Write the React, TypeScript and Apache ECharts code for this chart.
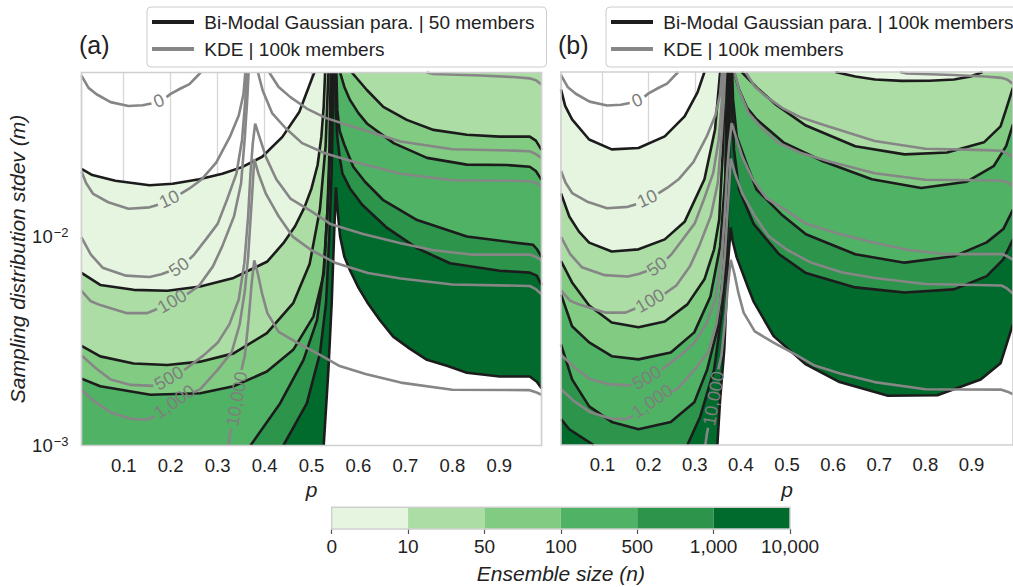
import React, { useEffect, useRef } from 'react';
import * as echarts from 'echarts';

const FONT = '"Liberation Sans", Arial, Helvetica, sans-serif';
const TEXT = '#222222';
const BLACK = '#1c1c1c';
const GRAY = '#868686';
const LEVEL_COLORS = ['#e5f5e0', '#abdda5', '#82cb82', '#4fb264', '#2c944b', '#006b2c'];
const CB_LABELS = ['0', '10', '50', '100', '500', '1,000', '10,000'];
const NAME_A = 'Bi-Modal Gaussian para. | 50 members';
const NAME_B = 'Bi-Modal Gaussian para. | 100k members';
const NAME_K = 'KDE | 100k members';
const X_MIN = 0.01, X_MAX = 0.99, Y_MIN = 0.001, Y_MAX = 0.061;

// ---------- panel (a): bi-modal Gaussian, 50 members (p, sigma) ----------
const A_L0 = [[0.01,0.0211],[0.033,0.0197],[0.082,0.0185],[0.155,0.0176],[0.204,0.0179],[0.261,0.0188],[0.310,0.0200],[0.352,0.0215],[0.395,0.0241],[0.438,0.0300],[0.474,0.0395],[0.501,0.0571],[0.506,0.061]];
const A_L10 = [[0.01,0.0067],[0.05,0.00587],[0.121,0.00556],[0.193,0.0055],[0.263,0.00577],[0.334,0.00634],[0.406,0.0076],[0.44,0.0093],[0.465,0.0112],[0.485,0.0138],[0.50,0.0170],[0.513,0.022],[0.521,0.030],[0.526,0.042],[0.529,0.061]];
const A_L50 = [[0.01,0.0030],[0.05,0.00267],[0.121,0.00247],[0.193,0.00243],[0.263,0.00252],[0.334,0.00276],[0.405,0.00345],[0.461,0.0048],[0.496,0.0074],[0.518,0.0135],[0.530,0.027],[0.536,0.061]];
const A_L100 = [[0.01,0.00209],[0.05,0.00192],[0.157,0.00175],[0.263,0.00178],[0.334,0.00192],[0.405,0.00226],[0.461,0.00287],[0.504,0.00414],[0.526,0.0066],[0.534,0.0134],[0.538,0.025],[0.541,0.061]];
const A_L500 = [[0.370,0.001],[0.433,0.00159],[0.483,0.00257],[0.512,0.00399],[0.526,0.00693],[0.535,0.0145],[0.541,0.030],[0.544,0.061]];
const A_L1000 = [[0.440,0.001],[0.490,0.00159],[0.518,0.00276],[0.531,0.00481],[0.538,0.01],[0.543,0.0209],[0.547,0.061]];
const A_SP = [[0.526,0.001],[0.536,0.0023],[0.543,0.00481],[0.548,0.01],[0.552,0.0172]];
const A_R10000 = [[0.552,0.0172],[0.556,0.013],[0.561,0.0100],[0.570,0.0080],[0.582,0.0069],[0.600,0.0057],[0.619,0.00484],[0.645,0.0040],[0.674,0.00332],[0.71,0.0029],[0.746,0.00257],[0.79,0.0024],[0.831,0.00223],[0.901,0.00214],[0.965,0.00214],[0.98,0.00202],[0.99,0.00188]];
const A_R50 = [[0.586,0.061],[0.618,0.0503],[0.653,0.0418],[0.703,0.0362],[0.760,0.0324],[0.831,0.0307],[0.901,0.0301],[0.965,0.0301],[0.978,0.0288],[0.99,0.0260]];
const A_R100 = [[0.561,0.061],[0.570,0.052],[0.582,0.0451],[0.600,0.039],[0.618,0.0348],[0.675,0.0280],[0.746,0.0238],[0.831,0.0221],[0.916,0.0220],[0.965,0.0216],[0.978,0.0206],[0.99,0.0187]];
const A_R500 = [[0.553,0.061],[0.555,0.0404],[0.560,0.032],[0.570,0.0275],[0.589,0.0216],[0.614,0.0183],[0.652,0.0150],[0.725,0.0120],[0.831,0.0100],[0.937,0.00933],[0.972,0.00913],[0.980,0.00872],[0.99,0.0080]];
const A_R1000 = [[0.550,0.061],[0.552,0.040],[0.555,0.0300],[0.560,0.0240],[0.566,0.0200],[0.582,0.0170],[0.608,0.0142],[0.661,0.0110],[0.725,0.0088],[0.795,0.00745],[0.901,0.00686],[0.965,0.00672],[0.980,0.00650],[0.99,0.00587]];

// ---------- panel (b): bi-modal Gaussian, 100k members ----------
const B_L0 = [[0.01,0.0503],[0.019,0.042],[0.034,0.0362],[0.071,0.0290],[0.120,0.0260],[0.178,0.0264],[0.235,0.0300],[0.278,0.0374],[0.306,0.0487],[0.321,0.061]];
const B_L10 = [[0.01,0.0160],[0.028,0.0124],[0.049,0.0105],[0.071,0.0093],[0.120,0.00843],[0.178,0.00864],[0.235,0.00964],[0.278,0.0117],[0.321,0.0187],[0.344,0.0324],[0.355,0.061]];
const B_L50 = [[0.01,0.0076],[0.034,0.0060],[0.071,0.00465],[0.12,0.00386],[0.178,0.00366],[0.235,0.0039],[0.284,0.00471],[0.321,0.00621],[0.342,0.00864],[0.353,0.0120],[0.361,0.0260],[0.366,0.061]];
const B_L100 = [[0.01,0.00526],[0.034,0.0037],[0.071,0.0031],[0.12,0.00266],[0.178,0.00257],[0.248,0.00277],[0.299,0.00346],[0.334,0.00514],[0.355,0.00892],[0.366,0.0187],[0.370,0.061]];
const B_L500 = [[0.01,0.00303],[0.034,0.00206],[0.071,0.00153],[0.12,0.00129],[0.178,0.00119],[0.248,0.00129],[0.299,0.0016],[0.327,0.0023],[0.349,0.00358],[0.364,0.00737],[0.371,0.0187],[0.373,0.061]];
const B_L1000_LEFT = [[0.01,0.00133],[0.028,0.00119],[0.049,0.00111],[0.081,0.001]];
const B_L1000 = [[0.284,0.001],[0.312,0.00137],[0.342,0.0023],[0.359,0.00431],[0.370,0.00864],[0.375,0.026],[0.376,0.061]];
const B_SP = [[0.349,0.001],[0.355,0.00165],[0.364,0.00287],[0.372,0.0074],[0.378,0.0110]];
const B_R10000 = [[0.378,0.0110],[0.382,0.0095],[0.391,0.00791],[0.413,0.00587],[0.428,0.00484],[0.471,0.00332],[0.541,0.00243],[0.612,0.00201],[0.719,0.00172],[0.826,0.00173],[0.920,0.00206],[0.963,0.00246],[0.975,0.00298],[0.99,0.0038]];
const B_R10 = [[0.605,0.061],[0.648,0.058],[0.691,0.0562],[0.749,0.0553],[0.809,0.0554],[0.862,0.0562],[0.898,0.0580],[0.920,0.0605],[0.924,0.061]];
const B_R50 = [[0.402,0.061],[0.434,0.0515],[0.477,0.0424],[0.541,0.0338],[0.648,0.0269],[0.755,0.0246],[0.847,0.0251],[0.927,0.0281],[0.963,0.0335],[0.975,0.0404],[0.99,0.0514]];
const B_R100 = [[0.385,0.061],[0.396,0.0503],[0.413,0.0412],[0.434,0.0362],[0.492,0.0281],[0.578,0.0228],[0.684,0.0187],[0.791,0.0170],[0.890,0.0182],[0.948,0.0216],[0.975,0.0269],[0.99,0.0342]];
const B_R500 = [[0.381,0.061],[0.383,0.0451],[0.391,0.0300],[0.413,0.0220],[0.434,0.0167],[0.488,0.0127],[0.541,0.0102],[0.648,0.00818],[0.755,0.00746],[0.862,0.0080],[0.933,0.00933],[0.969,0.0108],[0.99,0.0134]];
const B_R1000 = [[0.379,0.061],[0.381,0.0404],[0.385,0.026],[0.396,0.0167],[0.428,0.0114],[0.483,0.00818],[0.541,0.00665],[0.648,0.00568],[0.755,0.00537],[0.862,0.00556],[0.933,0.00643],[0.969,0.00774],[0.99,0.00964]];

// ---------- KDE, 100k members (same in both panels) ----------
const K0_A = [[0.01,0.0590],[0.025,0.0515],[0.042,0.0480],[0.072,0.0440],[0.11,0.0422],[0.14,0.0425],[0.159,0.0433]];
const K0_B = [[0.191,0.0465],[0.20,0.0482],[0.22,0.0510],[0.24,0.0537],[0.264,0.061]];
const K10_A = [[0.01,0.0205],[0.02,0.0180],[0.035,0.0160],[0.067,0.0146],[0.11,0.0136],[0.155,0.0138],[0.173,0.0142]];
const K10_B = [[0.221,0.0160],[0.24,0.0170],[0.265,0.0187],[0.297,0.0226],[0.326,0.030],[0.345,0.038],[0.355,0.048],[0.359,0.061]];
const K10_R = [[0.745,0.061],[0.76,0.0600],[0.86,0.0590],[0.93,0.0580],[0.965,0.0572],[0.978,0.0560],[0.99,0.0535]];
const K50_A = [[0.01,0.0099],[0.03,0.0082],[0.055,0.0071],[0.105,0.0065],[0.155,0.0064],[0.18,0.0066],[0.196,0.0068]];
const K50_B = [[0.240,0.0078],[0.25,0.0082],[0.275,0.0097],[0.30,0.0115],[0.32,0.015],[0.34,0.020],[0.352,0.029],[0.359,0.045],[0.362,0.061]];
const K50_R = [[0.41,0.061],[0.43,0.052],[0.455,0.0465],[0.49,0.041],[0.53,0.037],[0.58,0.034],[0.69,0.0285],[0.80,0.0262],[0.93,0.0258],[0.965,0.0256],[0.978,0.0248],[0.99,0.0238]];
const K100_A = [[0.01,0.0055],[0.03,0.0049],[0.05,0.0047],[0.107,0.0043],[0.150,0.0043],[0.171,0.0045]];
const K100_B = [[0.235,0.0053],[0.26,0.0058],[0.29,0.0072],[0.31,0.0090],[0.335,0.0125],[0.35,0.018],[0.358,0.030],[0.363,0.045],[0.366,0.061]];
const K100_R = [[0.386,0.061],[0.396,0.050],[0.416,0.039],[0.445,0.033],[0.48,0.028],[0.53,0.025],[0.59,0.0228],[0.69,0.0200],[0.80,0.0186],[0.93,0.0185],[0.965,0.0184],[0.978,0.0181],[0.99,0.0174]];
const K500_A = [[0.01,0.0027],[0.04,0.00235],[0.072,0.00207],[0.115,0.00195],[0.163,0.00193]];
const K500_B = [[0.229,0.0023],[0.27,0.0027],[0.30,0.0031],[0.325,0.0038],[0.345,0.0050],[0.357,0.0075],[0.365,0.0125],[0.370,0.020],[0.375,0.028],[0.380,0.0347],[0.389,0.030],[0.403,0.0240],[0.425,0.0188],[0.455,0.0152],[0.50,0.0132],[0.54,0.0115],[0.61,0.0103],[0.69,0.0093],[0.76,0.0086],[0.84,0.0082],[0.965,0.0082],[0.978,0.0080],[0.99,0.0077]];
const K1000_A = [[0.01,0.00185],[0.037,0.00163],[0.072,0.00144],[0.117,0.00134],[0.15,0.00133],[0.166,0.00138]];
const K1000_B = [[0.25,0.0018],[0.263,0.00186],[0.30,0.0023],[0.33,0.0028],[0.347,0.0038],[0.358,0.0055],[0.365,0.0080],[0.370,0.012],[0.375,0.018],[0.378,0.0235],[0.387,0.020],[0.403,0.016],[0.43,0.0125],[0.46,0.010],[0.50,0.0086],[0.55,0.0075],[0.62,0.0067],[0.69,0.0063],[0.80,0.0059],[0.965,0.0058],[0.978,0.0056],[0.99,0.0053]];
const K10000_A = [[0.323,0.001],[0.326,0.00112],[0.329,0.00121]];
const K10000_B = [[0.351,0.0023],[0.358,0.0027],[0.366,0.0040],[0.372,0.0058],[0.378,0.0077],[0.386,0.0066],[0.395,0.0053],[0.406,0.0043],[0.43,0.0035],[0.47,0.0031],[0.52,0.0027],[0.56,0.0024],[0.615,0.0022],[0.69,0.0020],[0.80,0.00185],[0.965,0.00184],[0.978,0.0018],[0.99,0.00175]];
const KDE_LABEL_TEXT = ['0', '10', '50', '100', '500', '1,000', '10,000'];
const KDE_LABEL_POS = [[0.175,0.0447],[0.197,0.0151],[0.218,0.00715],[0.203,0.0049],[0.196,0.0021],[0.208,0.00162],[0.341,0.00167]];
const KDE_LABEL_ROT = [22, 25, 35, 30, 30, 35, 80];

const KDE_LINES = [K0_A, K0_B, K10_A, K10_B, K10_R, K50_A, K50_B, K50_R, K100_A, K100_B, K100_R, K500_A, K500_B, K1000_A, K1000_B, K10000_A, K10000_B];

const BL = [X_MIN, Y_MIN], BR = [X_MAX, Y_MIN], TR = [X_MAX, Y_MAX];

const POLYS_A = [
  [[...A_L0, TR, BR, BL], LEVEL_COLORS[0]],
  [[...A_L10, TR, BR, BL], LEVEL_COLORS[1]],
  [[...A_L50, ...A_R50, BR, BL], LEVEL_COLORS[2]],
  [[...A_L100, ...A_R100, BR, BL], LEVEL_COLORS[3]],
  [[...A_L500, ...A_R500, BR], LEVEL_COLORS[4]],
  [[...A_L1000, ...A_R1000, BR], LEVEL_COLORS[5]],
  [[...A_SP, ...A_R10000, BR], '#ffffff'],
];
const LINES_A = [A_L0, A_L10, A_L50, A_L100, A_L500, A_L1000, [...A_SP, ...A_R10000], A_R50, A_R100, A_R500, A_R1000];

const POLYS_B = [
  [[...B_L0, TR, BR, BL], LEVEL_COLORS[0]],
  [[...B_L10, ...B_R10, TR, BR, BL], LEVEL_COLORS[1]],
  [[...B_L50, ...B_R50, BR, BL], LEVEL_COLORS[2]],
  [[...B_L100, ...B_R100, BR, BL], LEVEL_COLORS[3]],
  [[...B_L500, ...B_R500, BR, BL], LEVEL_COLORS[4]],
  [[...B_L1000_LEFT, BL], LEVEL_COLORS[5]],
  [[...B_L1000, ...B_R1000, BR], LEVEL_COLORS[5]],
  [[...B_SP, ...B_R10000, BR], '#ffffff'],
];
const LINES_B = [B_L0, B_L10, B_L50, B_L100, B_L500, B_L1000_LEFT, B_L1000, [...B_SP, ...B_R10000], B_R10, B_R50, B_R100, B_R500, B_R1000];

function panelSeries(i: number, polys: any[], lines: any[], blackName: string) {
  const s: any[] = [];
  polys.forEach(([pts, color]: any) => {
    s.push({
      type: 'custom', xAxisIndex: i, yAxisIndex: i, z: 1, silent: true, clip: true,
      encode: { x: 0, y: 1 }, data: pts,
      renderItem: (params: any, api: any) => params.dataIndex === 0
        ? { type: 'polygon', shape: { points: pts.map((pt: number[]) => api.coord(pt)) }, style: { fill: color } }
        : null,
    });
  });
  lines.forEach((ln: any) => {
    s.push({
      type: 'line', name: blackName, xAxisIndex: i, yAxisIndex: i, data: ln, showSymbol: false, symbol: 'none',
      color: BLACK, lineStyle: { color: BLACK, width: 2.6 }, z: 3, silent: true, clip: true,
    });
  });
  KDE_LINES.forEach((ln) => {
    s.push({
      type: 'line', name: NAME_K, xAxisIndex: i, yAxisIndex: i, data: ln, showSymbol: false, symbol: 'none',
      color: GRAY, lineStyle: { color: GRAY, width: 2.6 }, z: 4, silent: true, clip: true,
    });
  });
  s.push({
    type: 'custom', xAxisIndex: i, yAxisIndex: i, z: 5, silent: true, clip: true,
    encode: { x: 0, y: 1 }, data: KDE_LABEL_POS,
    renderItem: (params: any, api: any) => {
      const k = params.dataIndex;
      const c = api.coord([api.value(0), api.value(1)]);
      return {
        type: 'text', x: c[0], y: c[1], rotation: (KDE_LABEL_ROT[k] * Math.PI) / 180,
        style: { text: KDE_LABEL_TEXT[k], fill: '#7e7e7e', fontSize: 18, fontFamily: FONT, align: 'center', verticalAlign: 'middle' },
      };
    },
  });
  s.push({
    type: 'custom', xAxisIndex: i, yAxisIndex: i, z: 7, silent: true, clip: false,
    encode: { x: 0, y: 1 }, data: [KDE_LABEL_POS[0]],
    renderItem: (params: any) => {
      const cs = params.coordSys;
      return { type: 'rect', shape: { x: cs.x, y: cs.y, width: cs.width, height: cs.height }, style: { fill: 'none', stroke: '#cfcfcf', lineWidth: 1.6 } };
    },
  });
  return s;
}

const supFmt = (v: number) => {
  const l = Math.log10(v);
  const e = Math.round(l);
  if (Math.abs(l - e) > 1e-6) return '';
  return `{b|10}{s|${e < 0 ? '\u2212' : ''}${Math.abs(e)}}`;
};

function xAxisFor(grid: number) {
  return {
    type: 'value', gridIndex: grid, min: X_MIN, max: X_MAX, splitNumber: 10,
    axisLine: { show: false }, axisTick: { show: false },
    splitLine: { show: true, lineStyle: { color: '#d6d6d6', width: 1.3 } },
    axisLabel: {
      fontSize: 18.5, color: TEXT, margin: 10, showMinLabel: false, showMaxLabel: false,
      formatter: (v: number) => (Math.abs(v * 10 - Math.round(v * 10)) < 1e-6 && v > 0.05 && v < 0.95 ? v.toFixed(1) : ''),
    },
    name: 'p', nameLocation: 'middle', nameGap: 28,
    nameTextStyle: { fontStyle: 'italic', fontSize: 21, color: TEXT },
  };
}

function yAxisFor(grid: number, withLabels: boolean) {
  return {
    type: 'log', logBase: 10, gridIndex: grid, min: Y_MIN, max: Y_MAX,
    axisLine: { show: false }, axisTick: { show: false }, splitLine: { show: false }, minorTick: { show: false },
    axisLabel: {
      show: withLabels, margin: 13, showMaxLabel: false, formatter: supFmt, fontSize: 18.5,
      rich: { b: { fontSize: 18.5, color: TEXT, fontFamily: FONT }, s: { fontSize: 13, color: TEXT, fontFamily: FONT, verticalAlign: 'top', padding: [0, 0, 9, 1] } },
    },
    name: withLabels ? 'Sampling distribution stdev (m)' : '',
    nameLocation: 'middle', nameGap: 50,
    nameTextStyle: { fontStyle: 'italic', fontSize: 21, color: TEXT },
  };
}

const legendFor = (left: number, blackName: string) => ({
  data: [blackName, NAME_K], orient: 'vertical', left, top: 7,
  padding: [5, 12, 8, 5], itemGap: 7, itemWidth: 42, itemHeight: 4, icon: 'rect',
  borderColor: '#cccccc', borderWidth: 1, borderRadius: 4, backgroundColor: '#ffffff',
  selectedMode: false, formatter: (n: string) => ' ' + n,
  textStyle: { fontSize: 19, color: TEXT, lineHeight: 20, fontFamily: FONT },
});

export default function App() {
  const ref = useRef<HTMLDivElement>(null);
  useEffect(() => {
    if (!ref.current) return;
    const chart = echarts.init(ref.current, null, { renderer: 'svg' });
    const series: any[] = [
      ...panelSeries(0, POLYS_A, LINES_A, NAME_A),
      ...panelSeries(1, POLYS_B, LINES_B, NAME_B),
      {
        type: 'custom', xAxisIndex: 2, yAxisIndex: 2, z: 1, silent: true, clip: false,
        encode: { x: 0, y: 1 }, data: LEVEL_COLORS.map((_, k) => [k, k + 1]),
        renderItem: (params: any, api: any) => {
          const a = api.coord([api.value(0), 0]);
          const b = api.coord([api.value(1), 1]);
          return { type: 'rect', shape: { x: a[0], y: b[1], width: b[0] - a[0], height: a[1] - b[1] }, style: { fill: LEVEL_COLORS[params.dataIndex] } };
        },
      },
      {
        type: 'custom', xAxisIndex: 2, yAxisIndex: 2, z: 7, silent: true, clip: false,
        encode: { x: 0, y: 1 }, data: [[0, 1]],
        renderItem: (params: any) => {
          const cs = params.coordSys;
          return { type: 'rect', shape: { x: cs.x, y: cs.y, width: cs.width, height: cs.height }, style: { fill: 'none', stroke: '#cfcfcf', lineWidth: 1.4 } };
        },
      },
    ];
    chart.setOption({
      animation: false,
      backgroundColor: '#ffffff',
      textStyle: { fontFamily: FONT, color: TEXT },
      grid: [
        { left: 81.5, top: 72.5, width: 460, height: 373 },
        { left: 561, top: 72, width: 460, height: 373 },
        { left: 331.7, top: 507.3, width: 458.3, height: 21.7 },
      ],
      xAxis: [
        xAxisFor(0),
        xAxisFor(1),
        {
          type: 'value', gridIndex: 2, min: 0, max: 6, interval: 1,
          axisLine: { show: false }, splitLine: { show: false },
          axisTick: { show: true, length: 5, lineStyle: { color: '#555', width: 1.2 } },
          axisLabel: { fontSize: 19, color: TEXT, margin: 8, formatter: (v: number) => CB_LABELS[Math.round(v)] },
          name: 'Ensemble size (n)', nameLocation: 'middle', nameGap: 34,
          nameTextStyle: { fontStyle: 'italic', fontSize: 21, color: TEXT },
        },
      ],
      yAxis: [
        yAxisFor(0, true),
        yAxisFor(1, false),
        { type: 'value', gridIndex: 2, min: 0, max: 1, show: false },
      ],
      legend: [legendFor(147, NAME_A), legendFor(606, NAME_B)],
      graphic: [
        { type: 'text', x: 79, y: 45, style: { text: '(a)', fontSize: 25, fill: TEXT, fontFamily: FONT, verticalAlign: 'middle' } },
        { type: 'text', x: 558, y: 45, style: { text: '(b)', fontSize: 25, fill: TEXT, fontFamily: FONT, verticalAlign: 'middle' } },
      ],
      series,
    });
    return () => chart.dispose();
  }, []);
  return <div ref={ref} style={{ position: 'absolute', left: 0, top: 0, width: 1013, height: 587 }} />;
}
